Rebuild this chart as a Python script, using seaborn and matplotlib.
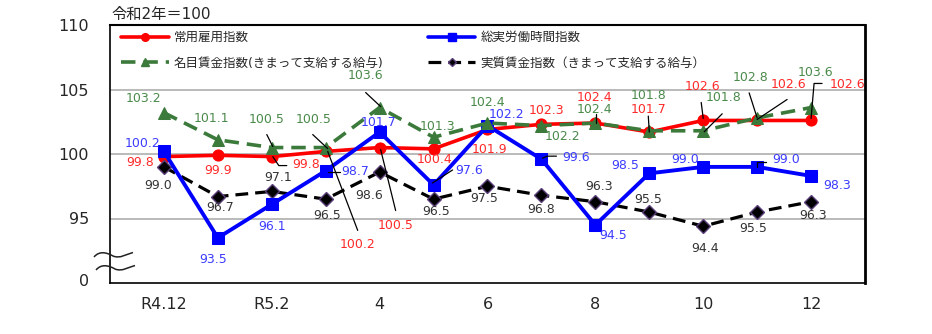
import numpy as np
import pandas as pd
import matplotlib
matplotlib.use("Agg")
import matplotlib.pyplot as plt
import matplotlib.transforms as mtransforms
from matplotlib.lines import Line2D
from matplotlib.path import Path
from matplotlib.patches import PathPatch
import seaborn as sns

# ---------------- data ----------------
months = ["R4.12", "R5.1", "R5.2", "R5.3", "R5.4", "R5.5", "R5.6",
          "R5.7", "R5.8", "R5.9", "R5.10", "R5.11", "R5.12"]
tick_labels = ["R4.12", "", "R5.2", "", "4", "", "6", "", "8", "", "10", "", "12"]
employment = [99.8, 99.9, 99.8, 100.2, 100.5, 100.4, 101.9, 102.3, 102.4, 101.7, 102.6, 102.6, 102.6]
hours = [100.2, 93.5, 96.1, 98.7, 101.7, 97.6, 102.2, 99.6, 94.5, 98.5, 99.0, 99.0, 98.3]
nominal = [103.2, 101.1, 100.5, 100.5, 103.6, 101.3, 102.4, 102.2, 102.4, 101.8, 101.8, 102.8, 103.6]
real = [99.0, 96.7, 97.1, 96.5, 98.6, 96.5, 97.5, 96.8, 96.3, 95.5, 94.4, 95.5, 96.3]
series_names = ["常用雇用指数", "総実労働時間指数",
                "名目賃金指数(きまって支給する給与)", "実質賃金指数（きまって支給する給与）"]
title_text = "令和2年＝100"
ytick_vals = [90.25, 95, 100, 105, 110]
ytick_text = ["0", "95", "100", "105", "110"]
grid_vals = [95, 100, 105]

# ---------------- label layout (pixel offsets from point, y up) ----------------
emp_off = [(-24, -6), (0, -15), (34, -8), (32, -93), (16, -78), (1, -11), (2, -20),
           (5, 14), (-1, 26), (-1, 23), (-1, 34), (31, 36), (36, 36)]
hrs_off = [(-21, 8), (-5, -22), (0, -22), (29, -1), (-1, 10), (36, 14), (19, 11),
           (35, 2), (18, -11), (-24, 8), (-18, 7), (29, 7), (26, -10)]
nom_off = [(-20, 14), (-6, 21), (-5, 28), (-12, 28), (-14, 32), (4, 11), (0, 21),
           (21, -11), (-1, 14), (-1, 35), (20, 33), (-7, 40), (4, 35)]
real_off = [(-6, -19), (2, -11), (6, 14), (1, -16), (-11, -23), (3, -12), (-3, -12),
            (0, -14), (4, 15), (-1, 13), (2, -22), (-4, -16), (2, -14)]

# leader polylines: (series, index, [(dx,dy) ...]) pixel offsets, y up
leaders = [
    ("emp", 2, [(1, 0), (7, -9), (15, -9)]),
    ("emp", 3, [(2, 0), (32, -79)]),
    ("emp", 4, [(1, -2), (16, -63)]),
    ("emp", 8, [(1, 9), (1, 0)]),
    ("emp", 9, [(-1, 16), (0, 0)]),
    ("emp", 10, [(-2, 18), (0, 2)]),
    ("emp", 11, [(30, 21), (0, 1)]),
    ("emp", 12, [(0, 2), (3, 37), (11, 37)]),
    ("nom", 2, [(-5, 13), (1, 1)]),
    ("nom", 3, [(-13, 13), (2, -1)]),
    ("nom", 4, [(-14, 15), (1, 1)]),
    ("nom", 10, [(19, 17), (1, -1)]),
    ("nom", 11, [(-8, 25), (0, 0)]),
    ("hrs", 3, [(2, -1), (14, -1)]),
    ("hrs", 5, [(-1, 2), (19, 15)]),
    ("hrs", 7, [(1, 1), (6, 3), (15, 3)]),
    ("hrs", 11, [(0, 0), (0, 5), (9, 5)]),
]

RED = "#FF0000"
BLUE = "#0000FF"
GREEN = "#3B7A3B"
BLACK = "#000000"
RED_T = "#FF2A2A"
BLUE_T = "#3C3CFF"
GREEN_T = "#4A8A4A"
BLACK_T = "#333333"

sns.set_style("white")
plt.rcParams["font.family"] = ["DejaVu Sans", "Noto Sans CJK JP"]

W, H = 932, 334
fig = plt.figure(figsize=(W / 100, H / 100), dpi=100)
ax = fig.add_axes([110 / W, 1 - 283 / H, 755 / W, 258 / H])

x = np.arange(len(months))
df = pd.DataFrame({"x": x, "emp": employment, "hrs": hours, "nom": nominal, "real": real})

for g in grid_vals:
    ax.axhline(g, color="#B4B4B4", lw=1.3, zorder=0.5)

sns.lineplot(data=df, x="x", y="emp", ax=ax, color=RED, linewidth=2.6, marker="o",
             markersize=8, markeredgecolor=RED, errorbar=None, zorder=3)
sns.lineplot(data=df, x="x", y="real", ax=ax, color=BLACK, linewidth=2.3,
             linestyle=(0, (4, 2.2)), marker="D", markersize=7,
             markeredgecolor="#5B3F7A", markeredgewidth=1.0, errorbar=None, zorder=4)
sns.lineplot(data=df, x="x", y="hrs", ax=ax, color=BLUE, linewidth=2.8, marker="s",
             markersize=8, markeredgecolor=BLUE, errorbar=None, zorder=5)
sns.lineplot(data=df, x="x", y="nom", ax=ax, color=GREEN, linewidth=2.6,
             linestyle=(0, (4, 2.2)), marker="^", markersize=8,
             markeredgecolor=GREEN, errorbar=None, zorder=6)

ax.set_xlim(-1, 13)
ax.set_ylim(90, 110)
ax.set_xticks(x)
ax.set_xticklabels(tick_labels, fontsize=11.5)
ax.set_yticks(ytick_vals)
ax.set_yticklabels(ytick_text, fontsize=11.5)
ax.set_xlabel("")
ax.set_ylabel("")
ax.tick_params(axis="x", direction="in", length=5, width=1, color="black", pad=10)
ax.tick_params(axis="y", length=0, pad=15)
for side, sp in ax.spines.items():
    sp.set_visible(True)
    sp.set_color("black")
    sp.set_linewidth(1.2)
ax.spines["right"].set_linewidth(2.0)
ax.spines["top"].set_linewidth(1.5)

# data labels
data = {"emp": employment, "hrs": hours, "nom": nominal, "real": real}
offs = {"emp": emp_off, "hrs": hrs_off, "nom": nom_off, "real": real_off}
tcol = {"emp": RED_T, "hrs": BLUE_T, "nom": GREEN_T, "real": BLACK_T}
for key in ["emp", "hrs", "nom", "real"]:
    for i, v in enumerate(data[key]):
        dx, dy = offs[key][i]
        ax.annotate(f"{v:.1f}", xy=(x[i], v), xytext=(dx, dy), textcoords="offset pixels",
                    ha="center", va="center", fontsize=9, color=tcol[key], zorder=8)

# leader lines
for key, i, pts in leaders:
    tr = mtransforms.IdentityTransform() + mtransforms.ScaledTranslation(x[i], data[key][i], ax.transData)
    xs = [p[0] for p in pts]
    ys = [p[1] for p in pts]
    ln = Line2D(xs, ys, transform=tr, color="black", lw=0.9, zorder=7)
    ax.add_artist(ln)
    ln.set_clip_on(False)

# legends
h_emp = Line2D([], [], color=RED, lw=2.6, marker="o", markersize=5.5)
h_hrs = Line2D([], [], color=BLUE, lw=2.6, marker="s", markersize=5.5)
h_nom = Line2D([], [], color=GREEN, lw=2.6, linestyle=(0, (4, 2.2)), marker="^", markersize=5.5)
h_real = Line2D([], [], color=BLACK, lw=2.3, linestyle=(0, (4, 2.2)), marker="D",
                markersize=4.5, markeredgecolor="#5B3F7A")
leg_kw = dict(loc="upper left", frameon=False, fontsize=9, handlelength=3.8,
              handletextpad=0.4, labelspacing=1.0, borderaxespad=0, borderpad=0)
leg1 = ax.legend([h_emp, h_nom], [series_names[0], series_names[2]],
                 bbox_to_anchor=((121 - 110) / 755, (283 - 31) / 258), **leg_kw)
ax.add_artist(leg1)
leg2 = ax.legend([h_hrs, h_real], [series_names[1], series_names[3]],
                 bbox_to_anchor=((428 - 110) / 755, (283 - 31) / 258), **leg_kw)

# title
fig.text(111 / W, 1 - 14 / H, title_text, fontsize=11, ha="left", va="center")

# axis break marks
def squiggle(x0, y0):
    verts = [(x0, y0), (x0 + 5, y0 - 6), (x0 + 12, y0 - 5), (x0 + 19, y0 - 1),
             (x0 + 26, y0 + 2), (x0 + 33, y0 - 3), (x0 + 39, y0 - 4.5)]
    verts = [(vx / W, 1 - vy / H) for vx, vy in verts]
    codes = [Path.MOVETO] + [Path.CURVE4] * 6
    fig.add_artist(PathPatch(Path(verts, codes), transform=fig.transFigure,
                             fill=False, lw=1.1, edgecolor="#222222"))

squiggle(94, 257)
squiggle(96, 270)

fig.savefig("out.png", dpi=100)
